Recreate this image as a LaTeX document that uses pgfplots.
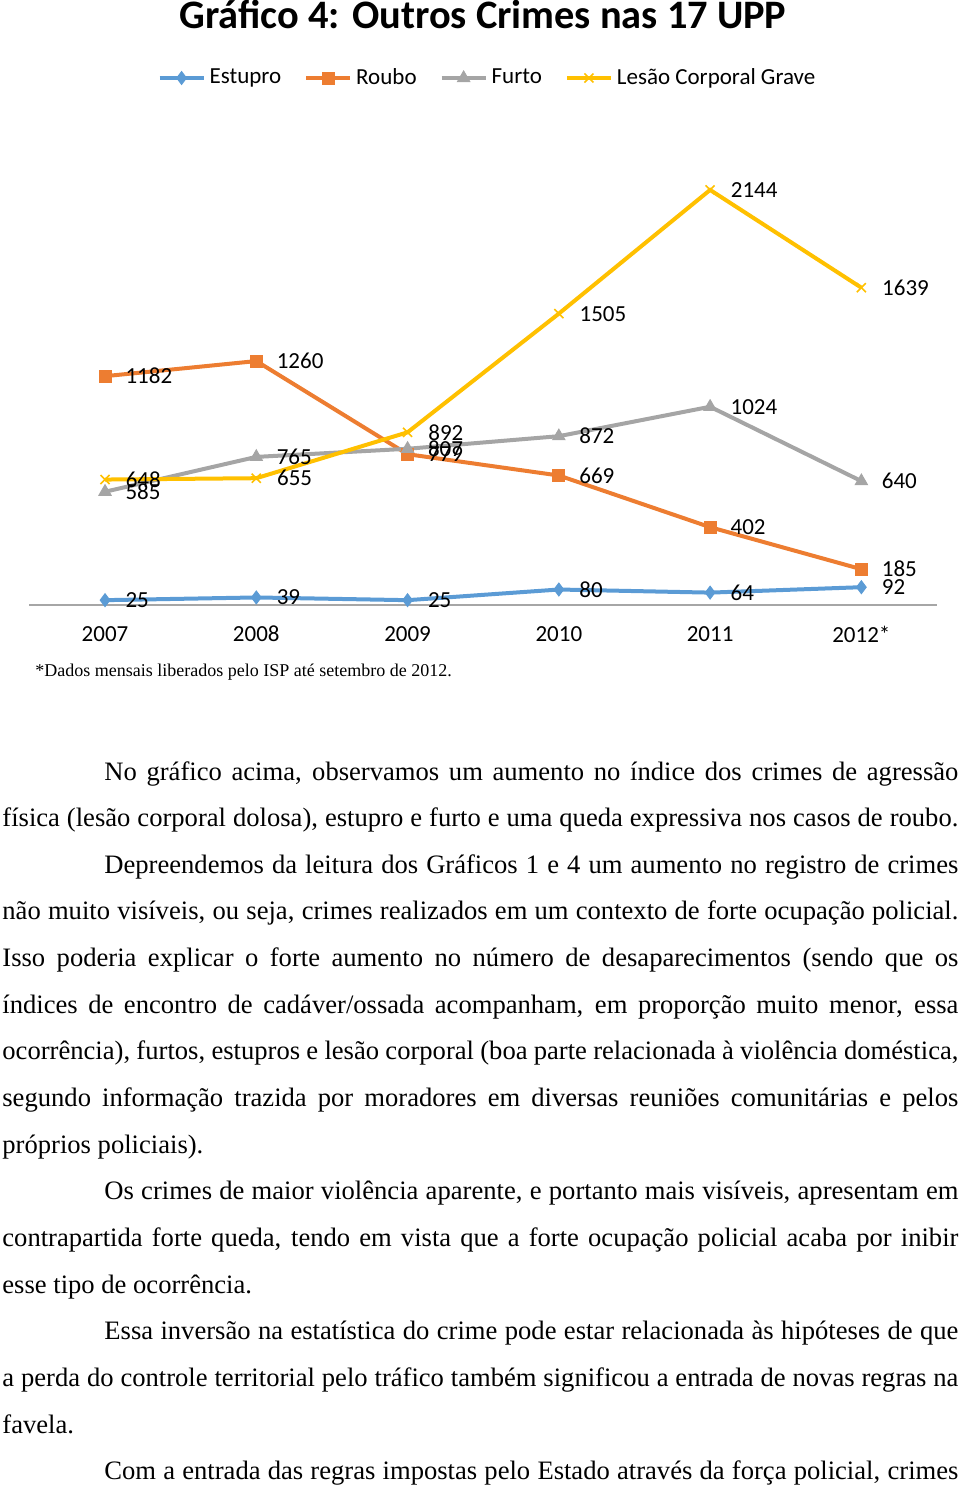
\documentclass[border=0pt]{standalone}
\usepackage{fontspec}
\usepackage{pgfplots}
\pgfplotsset{compat=1.18}
\setmainfont{Liberation Serif}
\newfontfamily\carlito{Carlito}
\newcommand{\chartfont}{\carlito\fontsize{11.5}{13}\selectfont}
\newcommand{\bodyfont}{\fontsize{13.3}{15}\selectfont}
\definecolor{cEst}{HTML}{5B9BD5}
\definecolor{cRou}{HTML}{ED7D31}
\definecolor{cFur}{HTML}{A5A5A5}
\definecolor{cLes}{HTML}{FFC000}
\definecolor{axGray}{HTML}{A6A6A6}
\newcommand{\Jline}[4]{\node[anchor=base west,inner sep=0pt,font=\bodyfont] at (#1pt,#2pt) {\makebox[#3pt][s]{#4}};}
\newcommand{\Lline}[3]{\node[anchor=base west,inner sep=0pt,font=\bodyfont] at (#1pt,#2pt) {#3};}
\begin{document}
\begin{tikzpicture}
\useasboundingbox (0pt,0pt) rectangle (480pt,-744pt);
\node[anchor=base,inner sep=0pt,font=\carlito\bfseries\fontsize{20.2}{22}\selectfont] at (241.5pt,-14pt) {Gráfico 4: Outros Crimes nas 17 UPP};
\begin{axis}[
  at={(14.7pt,-302.5pt)}, anchor=south west,
  scale only axis, width=453.8pt, height=242pt,
  xmin=-0.5, xmax=5.5, ymin=0, ymax=2500,
  axis y line=none, axis x line*=bottom,
  x axis line style={color=axGray, line width=0.7pt},
  xtick={0,1,2,3,4,5}, xticklabels={2007,2008,2009,2010,2011,2012*},
  major tick length=0pt,
  xticklabel style={font=\chartfont, anchor=center, yshift=-14.5pt},
  clip=false,
  /pgf/number format/1000 sep={},
  /pgf/number format/assume math mode=true,
  nodes near coords,
  nodes near coords align={horizontal},
  every node near coord/.append style={font=\chartfont, anchor=west, inner sep=0pt, xshift=10pt, text=black},
  legend columns=4,
  legend style={at={(0.5058,1)}, anchor=center, yshift=21.5pt, draw=none, fill=none,
    font=\chartfont, inner sep=0pt,
    /tikz/every even column/.append style={column sep=9.5pt}},
  legend image code/.code={\draw[mark repeat=2,mark phase=2,#1] plot coordinates {(0pt,0pt) (11pt,0pt) (22pt,0pt)};},
]
\addplot[color=cEst, line width=2pt, mark=diamond*, mark size=3.2pt, mark options={solid,fill=cEst,line width=0.5pt}]
  coordinates {(0,25) (1,39) (2,25) (3,80) (4,64) (5,92)};
\addlegendentry{Estupro}
\addplot[color=cRou, line width=2pt, mark=square*, mark size=3pt, mark options={solid,fill=cRou,line width=0.5pt}]
  coordinates {(0,1182) (1,1260) (2,779) (3,669) (4,402) (5,185)};
\addlegendentry{Roubo}
\addplot[color=cFur, line width=2pt, mark=triangle*, mark size=3.5pt, mark options={solid,fill=cFur,line width=0.5pt}]
  coordinates {(0,585) (1,765) (2,807) (3,872) (4,1024) (5,640)};
\addlegendentry{Furto}
\addplot[color=cLes, line width=2pt, mark=x, mark size=3.2pt, mark options={solid,line width=0.8pt}]
  coordinates {(0,648) (1,655) (2,892) (3,1505) (4,2144) (5,1639)};
\addlegendentry{Lesão Corporal Grave}
\end{axis}
\node[anchor=base west,inner sep=0pt,font=\fontsize{9}{10}\selectfont] at (17.5pt,-338pt) {*Dados mensais liberados pelo ISP até setembro de 2012.};
\Jline{52}{-390}{427}{No gráfico acima, observamos um aumento no índice dos crimes de agressão}
\Jline{1}{-413.325}{478}{física (lesão corporal dolosa), estupro e furto e uma queda expressiva nos casos de roubo.}
\Jline{52}{-436.65}{427}{Depreendemos da leitura dos Gráficos 1 e 4 um aumento no registro de crimes}
\Jline{1}{-459.975}{478}{não muito visíveis, ou seja, crimes realizados em um contexto de forte ocupação policial.}
\Jline{1}{-483.3}{478}{Isso poderia explicar o forte aumento no número de desaparecimentos (sendo que os}
\Jline{1}{-506.625}{478}{índices de encontro de cadáver/ossada acompanham, em proporção muito menor, essa}
\Jline{1}{-529.95}{478}{ocorrência), furtos, estupros e lesão corporal (boa parte relacionada à violência doméstica,}
\Jline{1}{-553.275}{478}{segundo informação trazida por moradores em diversas reuniões comunitárias e pelos}
\Lline{1}{-576.6}{próprios policiais).}
\Jline{52}{-599.925}{427}{Os crimes de maior violência aparente, e portanto mais visíveis, apresentam em}
\Jline{1}{-623.25}{478}{contrapartida forte queda, tendo em vista que a forte ocupação policial acaba por inibir}
\Lline{1}{-646.575}{esse tipo de ocorrência.}
\Jline{52}{-669.9}{427}{Essa inversão na estatística do crime pode estar relacionada às hipóteses de que}
\Jline{1}{-693.225}{478}{a perda do controle territorial pelo tráfico também significou a entrada de novas regras na}
\Lline{1}{-716.55}{favela.}
\Jline{52}{-739.875}{427}{Com a entrada das regras impostas pelo Estado através da força policial, crimes}
\end{tikzpicture}
\end{document}
